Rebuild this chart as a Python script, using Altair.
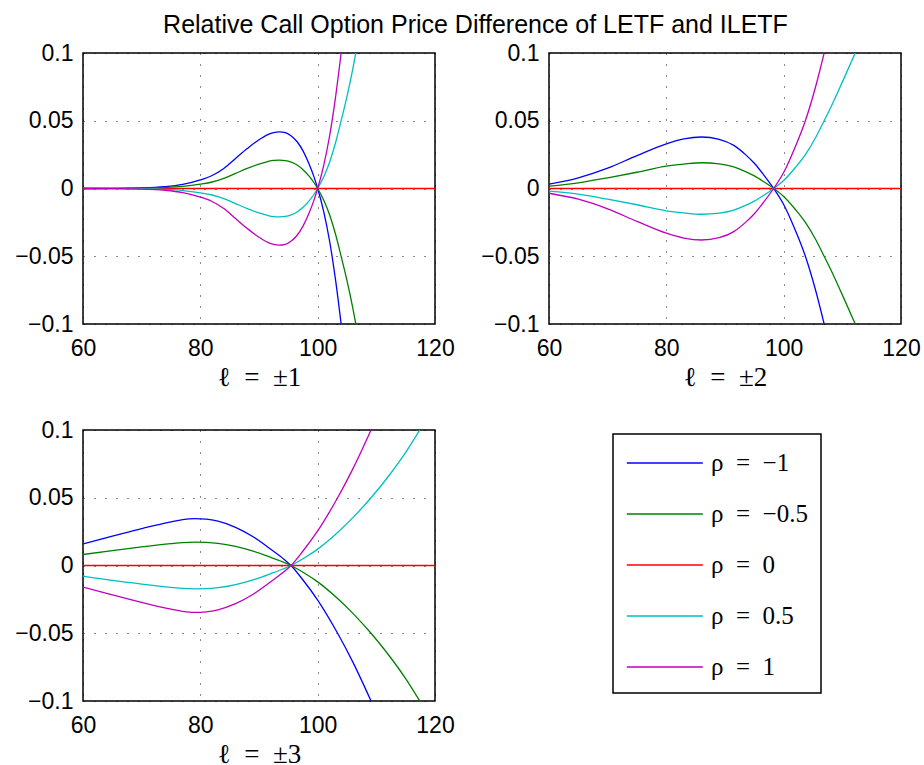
import altair as alt
import pandas as pd

TITLE = "Relative Call Option Price Difference of LETF and ILETF"
SP = "\u2002"
SERIES = [f"ρ{SP}={SP}−1", f"ρ{SP}={SP}−0.5", f"ρ{SP}={SP}0", f"ρ{SP}={SP}0.5", f"ρ{SP}={SP}1"]
COLORS = ["#0000FF", "#008000", "#FF0000", "#00BFBF", "#BF00BF"]
X_TICKS = [60, 80, 100, 120]
Y_TICKS = [-0.1, -0.05, 0, 0.05, 0.1]
PANEL_LABELS = [f"ℓ{SP}={SP}±1", f"ℓ{SP}={SP}±2", f"ℓ{SP}={SP}±3"]

RED_X = [60, 120]
RED_Y = [0, 0]

# Panel 1 (l = ±1)
P1_XA = [60, 65, 70, 74, 77, 80, 82, 84, 86, 88, 90, 91.5, 92.5, 93.5, 94.5, 95.5, 96.5, 97.5, 98.5, 99.3,
         100, 101, 102, 103, 104]
P1_BLUE = [0, 0.0001, 0.0004, 0.0013, 0.003, 0.0063, 0.0096, 0.0148, 0.0222, 0.0295, 0.036, 0.0398, 0.0413,
           0.0418, 0.0412, 0.0388, 0.0345, 0.0278, 0.0185, 0.0095, 0, -0.0165, -0.038, -0.066, -0.1]
P1_MAGENTA = [0, -0.0001, -0.0004, -0.0013, -0.003, -0.0063, -0.0096, -0.0148, -0.0222, -0.0295, -0.036, -0.0398,
              -0.0413, -0.0418, -0.0412, -0.0388, -0.0345, -0.0278, -0.0185, -0.0095, 0, 0.0165, 0.038, 0.066, 0.1]
P1_XB = [60, 65, 70, 74, 77, 80, 82, 84, 86, 88, 90, 91.5, 92.5, 93.5, 94.5, 95.5, 96.5, 97.5, 98.5, 99.3,
         100, 101, 102, 103, 104, 105, 106, 106.5]
P1_GREEN = [0, 0.00005, 0.0002, 0.00065, 0.0015, 0.0032, 0.0048, 0.0074, 0.0111, 0.0148, 0.018, 0.0199, 0.0207,
            0.0209, 0.0206, 0.0194, 0.0173, 0.0139, 0.0093, 0.0048, 0, -0.0083, -0.019, -0.033, -0.05,
            -0.068, -0.0885, -0.1]
P1_CYAN = [0, -0.00005, -0.0002, -0.00065, -0.0015, -0.0032, -0.0048, -0.0074, -0.0111, -0.0148, -0.018, -0.0199,
           -0.0207, -0.0209, -0.0206, -0.0194, -0.0173, -0.0139, -0.0093, -0.0048, 0, 0.0083, 0.019, 0.033, 0.05,
           0.068, 0.0885, 0.1]

# Panel 2 (l = ±2)
P2_XA = [60, 65, 70, 75, 80, 83, 86, 89, 91.5, 93.5, 95, 96.6, 98.3, 100, 102, 103.7, 105.5, 106.9]
P2_BLUE = [0.0032, 0.0079, 0.015, 0.0243, 0.033, 0.0366, 0.038, 0.0363, 0.0318, 0.025, 0.0186, 0.010, 0,
           -0.0118, -0.031, -0.05, -0.076, -0.1]
P2_MAGENTA = [-0.0035, -0.0079, -0.015, -0.0243, -0.033, -0.0366, -0.038, -0.0363, -0.0318, -0.025, -0.0186,
              -0.010, 0, 0.0118, 0.031, 0.05, 0.076, 0.1]
P2_XB = [60, 65, 70, 75, 80, 83, 86, 89, 91.5, 93.5, 95, 96.6, 98.3, 100, 102, 103.7, 105.5, 106.9, 108, 110, 112.2]
P2_GREEN = [0.0017, 0.0042, 0.0079, 0.012, 0.0165, 0.018, 0.019, 0.0182, 0.0159, 0.0125, 0.0093, 0.005, 0,
            -0.0059, -0.0155, -0.025, -0.038, -0.05, -0.0596, -0.0785, -0.1]
P2_CYAN = [-0.002, -0.0042, -0.0079, -0.012, -0.0165, -0.018, -0.019, -0.0182, -0.0159, -0.0125, -0.0093, -0.005, 0,
           0.0059, 0.0155, 0.025, 0.038, 0.05, 0.0596, 0.0785, 0.1]

# Panel 3 (l = ±3)
P3_XA = [60, 65, 70, 75, 77, 79, 81, 83, 86, 89, 92, 94.3, 95.45, 97.5, 100, 103.4, 106, 109.1]
P3_BLUE = [0.016, 0.0216, 0.0272, 0.0322, 0.0338, 0.0346, 0.0342, 0.0327, 0.0282, 0.0212, 0.012, 0.0045, 0,
           -0.0107, -0.0255, -0.05, -0.0713, -0.1]
P3_MAGENTA = [-0.0159, -0.0216, -0.0272, -0.0322, -0.0338, -0.0346, -0.0342, -0.0327, -0.0282, -0.0212, -0.012,
              -0.0045, 0, 0.0107, 0.0255, 0.05, 0.0713, 0.1]
P3_XB = [60, 65, 70, 75, 77, 79, 81, 83, 86, 89, 92, 94.3, 95.45, 97.5, 100, 103.4, 106, 109.1, 112, 115, 117.4]
P3_GREEN = [0.0081, 0.011, 0.0137, 0.0161, 0.0169, 0.0173, 0.0171, 0.0164, 0.0141, 0.0106, 0.006, 0.0022, 0,
            -0.005, -0.0121, -0.0244, -0.0353, -0.05, -0.0655, -0.0835, -0.1]
P3_CYAN = [-0.0078, -0.011, -0.0137, -0.0161, -0.0169, -0.0172, -0.0171, -0.0164, -0.0141, -0.0106, -0.006,
           -0.0022, 0, 0.005, 0.0121, 0.0244, 0.0353, 0.05, 0.0655, 0.0835, 0.1]


def make_df(xa, blue, magenta, xb, green, cyan):
    rows = []
    parts = [(SERIES[0], xa, blue), (SERIES[1], xb, green), (SERIES[2], RED_X, RED_Y),
             (SERIES[3], xb, cyan), (SERIES[4], xa, magenta)]
    for name, xs, ys in parts:
        for x, y in zip(xs, ys):
            rows.append({"x": x, "y": y, "series": name})
    return pd.DataFrame(rows)


def panel(df, label, show_legend):
    if show_legend:
        legend = alt.Legend(
            orient="none", legendX=530, legendY=4, title=None,
            symbolType="M-1,0H4", symbolSize=924, symbolStrokeWidth=1.3,
            labelFont="Liberation Serif", labelFontSize=25, labelColor="black",
            labelOffset=53, rowPadding=22, padding=13,
            strokeColor="black", fillColor="white",
        )
    else:
        legend = None
    return alt.Chart(df).mark_line(interpolate="monotone", strokeWidth=1.3, clip=True).encode(
        x=alt.X("x:Q", scale=alt.Scale(domain=[60, 120], nice=False, zero=False),
                axis=alt.Axis(values=X_TICKS, title=label)),
        y=alt.Y("y:Q", scale=alt.Scale(domain=[-0.1, 0.1], nice=False),
                axis=alt.Axis(values=Y_TICKS, format=".2~f", title=None)),
        color=alt.Color("series:N", scale=alt.Scale(domain=SERIES, range=COLORS), legend=legend),
    ).properties(width=352, height=271)


p1 = panel(make_df(P1_XA, P1_BLUE, P1_MAGENTA, P1_XB, P1_GREEN, P1_CYAN), PANEL_LABELS[0], False)
p2 = panel(make_df(P2_XA, P2_BLUE, P2_MAGENTA, P2_XB, P2_GREEN, P2_CYAN), PANEL_LABELS[1], False)
p3 = panel(make_df(P3_XA, P3_BLUE, P3_MAGENTA, P3_XB, P3_GREEN, P3_CYAN), PANEL_LABELS[2], True)

chart = alt.concat(
    p1, p2, p3, columns=2, spacing={"row": 106, "column": 114}, bounds="flush",
    title=alt.TitleParams(TITLE, font="Liberation Sans", fontSize=25, fontWeight="normal",
                          anchor="middle", baseline="bottom", offset=-22, dx=8, color="black"),
).resolve_scale(color="independent").properties(
    padding={"left": 14, "top": 13, "right": 0, "bottom": 0}, background="white"
).configure_view(
    stroke="black", strokeWidth=1.5
).configure_axis(
    labelFont="Liberation Sans", labelFontSize=23, labelColor="black",
    domain=False, ticks=False, tickSize=0,
    grid=True, gridColor="black", gridDash=[1, 10], gridWidth=1, gridOpacity=0.9,
    labelFlush=False, labelOverlap=False,
    titleFont="Liberation Serif", titleFontSize=27, titleFontWeight="normal", titleColor="black",
).configure_axisX(
    labelPadding=13, titlePadding=4
).configure_axisY(
    labelPadding=10
).configure_legend(
    strokeWidth=1.5
)

chart.save("out.html", embed_options={"renderer": "svg", "actions": False})
